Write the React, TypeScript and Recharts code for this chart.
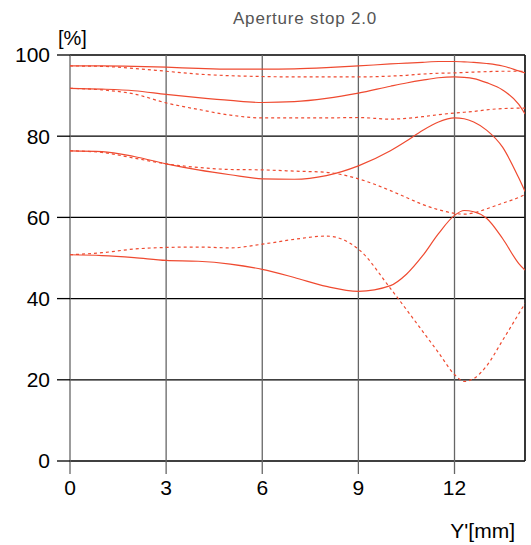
import React from "react";
import { LineChart, Line, XAxis, YAxis, CartesianGrid, ReferenceLine } from "recharts";

const positions = [0, 1, 2, 3, 4, 5, 6, 7, 8, 9, 10, 10.5, 11, 11.5, 12, 12.3, 12.6, 13, 13.5, 14, 14.2];

const aSolid = [97.3, 97.3, 97.2, 97.0, 96.7, 96.5, 96.5, 96.6, 96.9, 97.3, 97.8, 98.0, 98.2, 98.4, 98.4, 98.3, 98.2, 97.9, 97.3, 96.1, 95.6];
const aDashed = [97.3, 97.2, 96.7, 96.0, 95.3, 94.9, 94.7, 94.6, 94.6, 94.6, 94.8, 95.0, 95.3, 95.5, 95.6, 95.7, 95.8, 95.9, 96.0, 96.0, 95.9];
const bSolid = [91.8, 91.6, 91.2, 90.3, 89.5, 88.8, 88.3, 88.5, 89.3, 90.6, 92.3, 93.1, 93.8, 94.4, 94.6, 94.5, 94.2, 93.2, 91.4, 87.9, 85.5];
const bDashed = [91.8, 91.4, 90.4, 88.2, 86.6, 85.2, 84.5, 84.5, 84.5, 84.6, 84.2, 84.4, 84.8, 85.3, 85.7, 85.9, 86.1, 86.5, 86.8, 86.9, 86.9];
const cSolid = [76.4, 76.2, 75.0, 73.2, 71.7, 70.5, 69.5, 69.4, 70.3, 72.7, 76.4, 78.8, 81.4, 83.5, 84.5, 84.3, 83.5, 81.5, 77.3, 69.8, 66.4];
const cDashed = [76.4, 76.0, 74.6, 73.2, 72.3, 71.8, 71.7, 71.4, 71.1, 69.5, 66.6, 64.9, 63.2, 61.9, 61.0, 60.8, 61.1, 62.1, 63.5, 64.9, 65.6];
const dSolid = [50.8, 50.6, 50.1, 49.4, 49.2, 48.5, 47.2, 45.2, 43.0, 41.8, 43.2, 46.0, 50.5, 56.0, 60.5, 61.7, 61.4, 59.8, 54.8, 48.7, 47.0];
const dDashed = [50.8, 51.3, 52.2, 52.6, 52.7, 52.5, 53.4, 54.6, 55.4, 52.2, 42.5, 37.3, 32.0, 26.7, 21.3, 19.6, 20.3, 23.4, 29.7, 36.2, 38.8];

const xTicks = [0, 3, 6, 9, 12];
const yTicks = [0, 20, 40, 60, 80, 100];

const data = positions.map((x, i) => ({
  x,
  aS: aSolid[i],
  aD: aDashed[i],
  bS: bSolid[i],
  bD: bDashed[i],
  cS: cSolid[i],
  cD: cDashed[i],
  dS: dSolid[i],
  dD: dDashed[i],
}));

const RED = "#ef4a30";
const FONT = "'Liberation Sans', Arial, sans-serif";

const series = [
  { key: "aS", dash: undefined },
  { key: "aD", dash: "3 3" },
  { key: "bS", dash: undefined },
  { key: "bD", dash: "3 3" },
  { key: "cS", dash: undefined },
  { key: "cD", dash: "3 3" },
  { key: "dS", dash: undefined },
  { key: "dD", dash: "3 3" },
];

export default function App() {
  return (
    <div style={{ position: "absolute", left: 0, top: 0, width: 531, height: 545, background: "#fff" }}>
      <LineChart
        width={531}
        height={545}
        data={data}
        margin={{ top: 55, right: 6, bottom: 44, left: 20 }}
      >
        <CartesianGrid vertical={false} stroke="#000" strokeWidth={1.3} />
        <CartesianGrid horizontal={false} stroke="#666" strokeWidth={1.3} />
        <XAxis
          dataKey="x"
          type="number"
          domain={[0, 14.2]}
          ticks={xTicks}
          allowDataOverflow
          height={40}
          axisLine={false}
          tickLine={{ stroke: "#666", strokeWidth: 1.3 }}
          tickSize={13}
          tickMargin={6}
          tick={{ fill: "#000", fontSize: 21, fontFamily: FONT }}
        />
        <YAxis
          type="number"
          domain={[0, 100]}
          ticks={yTicks}
          width={50}
          axisLine={false}
          tickLine={{ stroke: "#000", strokeWidth: 1.3 }}
          tickSize={13}
          tickMargin={7}
          tick={{ fill: "#000", fontSize: 21, fontFamily: FONT }}
        />
        <ReferenceLine x={14.2} stroke="#000" strokeWidth={1.3} />
        {series.map((s) => (
          <Line
            key={s.key}
            dataKey={s.key}
            type="monotone"
            stroke={RED}
            strokeWidth={1.2}
            strokeDasharray={s.dash}
            dot={false}
            activeDot={false}
            isAnimationActive={false}
          />
        ))}
      </LineChart>
      <svg
        width={531}
        height={545}
        style={{ position: "absolute", left: 0, top: 0, pointerEvents: "none" }}
      >
        <text x={305} y={24} textAnchor="middle" fontSize={17} fill="#555" fontFamily={FONT} letterSpacing={0.8}>
          Aperture stop 2.0
        </text>
        <text x={58} y={45} fontSize={20} fill="#000" fontFamily={FONT}>
          [%]
        </text>
        <text x={515} y={538} textAnchor="end" fontSize={21} fill="#000" fontFamily={FONT}>
          Y'[mm]
        </text>
      </svg>
    </div>
  );
}
